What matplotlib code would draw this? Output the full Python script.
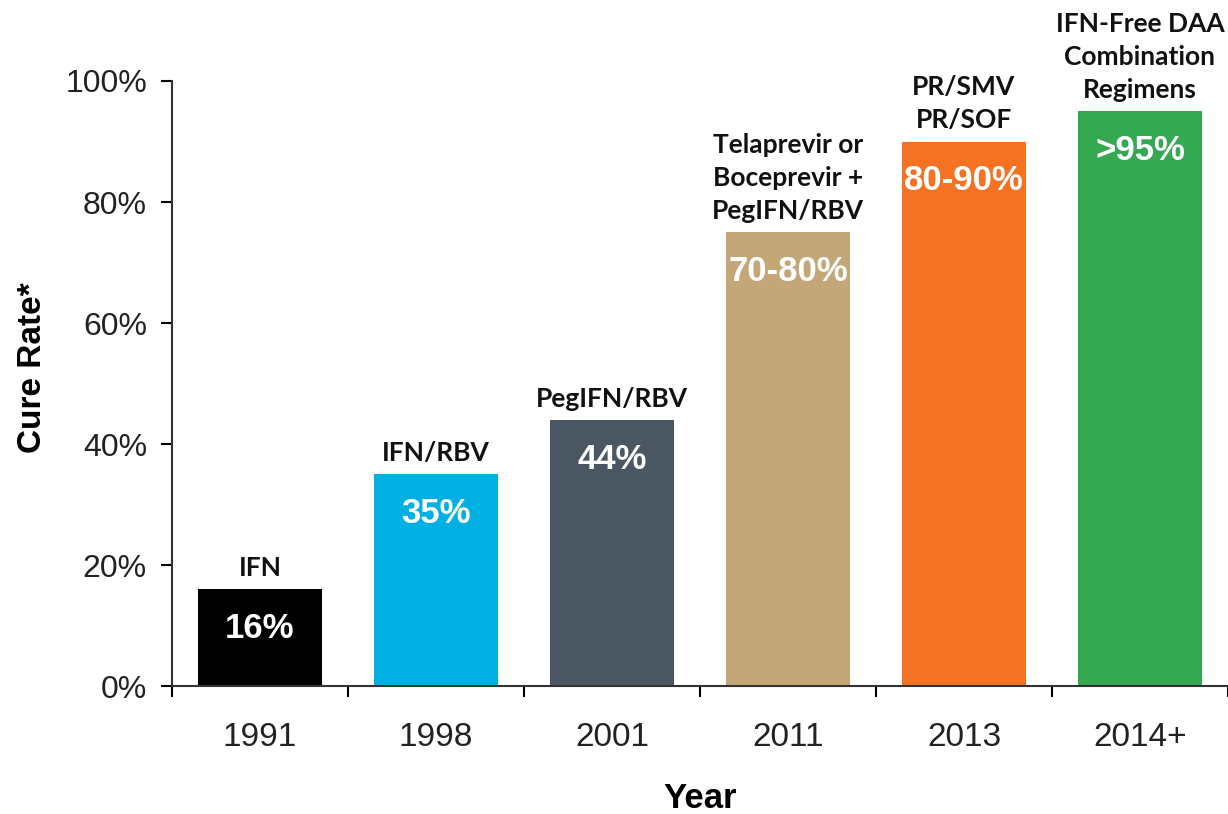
import matplotlib.pyplot as plt

years = ['1991', '1998', '2001', '2011', '2013', '2014+']
cure_rate = [16, 35, 44, 75, 90, 95]
value_labels = ['16%', '35%', '44%', '70-80%', '80-90%', '>95%']
regimens = ['IFN', 'IFN/RBV', 'PegIFN/RBV',
            'Telaprevir or\nBoceprevir +\nPegIFN/RBV',
            'PR/SMV\nPR/SOF',
            'IFN-Free DAA\nCombination\nRegimens']
colors = ['#000000', '#00b0e2', '#4a5662', '#c4a778', '#f47222', '#35a852']


def main():
    fig = plt.figure(figsize=(12.28, 8.14), dpi=100)
    ax = fig.add_axes([0.140, 0.157, 0.86, 0.7435])

    x = range(len(years))
    ax.bar(x, cure_rate, width=0.70, color=colors, zorder=2)

    for i, v in enumerate(cure_rate):
        ax.text(i, v - 6.5, value_labels[i], ha='center', va='center',
                color='white', fontsize=25, fontweight='bold',
                family='Liberation Sans')
        ax.text(i, v + 1.5, regimens[i], ha='center', va='bottom',
                color='#111111', fontsize=19, fontweight='bold',
                family='Lato', linespacing=1.45)

    ax.set_xlim(-0.5, len(years) - 0.5)
    ax.set_ylim(0, 100)
    ax.set_yticks(range(0, 101, 20))
    ax.set_yticklabels(['{0}%'.format(t) for t in range(0, 101, 20)],
                       fontsize=23, family='Liberation Sans', color='#222222')
    ax.set_xticks(list(x))
    ax.set_xticklabels(years, fontsize=24, family='Liberation Sans', color='#222222')
    # ticks between categories
    ax.set_xticks([i - 0.5 for i in range(len(years) + 1)], minor=True)
    ax.tick_params(axis='x', which='major', length=0, pad=26)
    ax.tick_params(axis='x', which='minor', length=8, width=1.5, direction='out')
    ax.tick_params(axis='y', length=8, width=1.5, direction='out', pad=10)

    for s in ['top', 'right']:
        ax.spines[s].set_visible(False)
    ax.spines['left'].set_linewidth(1.5)
    ax.spines['bottom'].set_linewidth(1.5)
    ax.spines['bottom'].set_color('#333333')
    ax.spines['left'].set_color('#333333')

    ax.set_ylabel('Cure Rate*', fontsize=24, fontweight='bold',
                  family='Liberation Sans')
    ax.yaxis.set_label_coords(-0.117, 0.527)
    ax.set_xlabel('Year', fontsize=25, fontweight='bold',
                  family='Liberation Sans')
    ax.xaxis.set_label_coords(0.5, -0.158)

    fig.savefig('out.png', dpi=100)


if __name__ == '__main__':
    main()
